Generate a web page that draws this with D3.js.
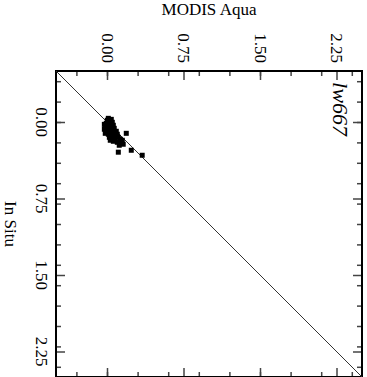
<!DOCTYPE html>
<html>
<head>
<meta charset="utf-8">
<script src="https://cdn.jsdelivr.net/npm/d3@7"></script>
<style>
  body { margin: 0; background: #fff; }
  text { font-family: "Liberation Serif", "DejaVu Serif", serif; fill: #000; }
</style>
</head>
<body>
<script>
// modis aqua vs in situ, lw667 (plot is turned 90 deg clockwise)
var modis = [0.013, 0.042, 0.023, 0.052, -0.007, 0.032, 0.062, -0.017, 0.013, 0.042,
  0.071, -0.026, 0.003, 0.032, 0.062, 0.091, -0.017, 0.013, 0.042, 0.071,
  0.101, 0.023, 0.052, 0.081, 0.111, 0.130, 0.062, 0.101, 0.140, 0.120,
  0.159, 0.189, 0.111, 0.238, 0.345, -0.026, 0.003, 0.081, 0.150, 0.032];
var inSitu = [-0.036, -0.026, -0.007, 0.003, 0.013, 0.023, 0.032, 0.042, 0.052, 0.062,
  0.062, 0.071, 0.081, 0.091, 0.091, 0.091, 0.111, 0.120, 0.120, 0.130,
  0.120, 0.150, 0.159, 0.159, 0.150, 0.169, 0.189, 0.199, 0.199, 0.228,
  0.218, 0.111, 0.296, 0.277, 0.326, 0.023, -0.017, 0.111, 0.179, 0.179];

var majorTicks = [0, 0.75, 1.5, 2.25];
var modisMinor = [-0.3, 0, 0.3, 0.6, 0.9, 1.2, 1.5, 1.8, 2.1, 2.4];
var inSituMinor = [-0.4, -0.2, 0, 0.2, 0.4, 0.6, 0.8, 1.0, 1.2, 1.4, 1.6, 1.8, 2.0, 2.2, 2.4];
var range = [-0.5, 2.5];

var w = 367;
var h = 377;
var boxL = 56, boxR = 362, boxT = 71, boxB = 377;

var svg = d3.select("body")
  .append("svg")
  .attr("width", w)
  .attr("height", h);

var x = d3.scaleLinear().domain(range).range([boxL, boxR]);
var y = d3.scaleLinear().domain(range).range([boxT, boxB]);

function tidy(g) {
  g.select(".domain").remove();
  g.selectAll("line").attr("stroke", "#444").attr("stroke-width", 1.5);
  g.selectAll("text").remove();
}

// ticks on all four sides, pointing in
svg.append("g").attr("transform", "translate(0," + boxT + ")")
  .call(d3.axisTop(x).tickValues(modisMinor).tickSize(-5)).call(tidy);
svg.append("g").attr("transform", "translate(0," + boxT + ")")
  .call(d3.axisTop(x).tickValues(majorTicks).tickSize(-9)).call(tidy);
svg.append("g").attr("transform", "translate(0," + boxB + ")")
  .call(d3.axisBottom(x).tickValues(modisMinor).tickSize(-5)).call(tidy);
svg.append("g").attr("transform", "translate(0," + boxB + ")")
  .call(d3.axisBottom(x).tickValues(majorTicks).tickSize(-9)).call(tidy);
svg.append("g").attr("transform", "translate(" + boxL + ",0)")
  .call(d3.axisLeft(y).tickValues(inSituMinor).tickSize(-5)).call(tidy);
svg.append("g").attr("transform", "translate(" + boxL + ",0)")
  .call(d3.axisLeft(y).tickValues(majorTicks).tickSize(-9)).call(tidy);
svg.append("g").attr("transform", "translate(" + boxR + ",0)")
  .call(d3.axisRight(y).tickValues(inSituMinor).tickSize(-5)).call(tidy);
svg.append("g").attr("transform", "translate(" + boxR + ",0)")
  .call(d3.axisRight(y).tickValues(majorTicks).tickSize(-9)).call(tidy);

// frame
svg.append("rect")
  .attr("x", boxL)
  .attr("y", boxT)
  .attr("width", boxR - boxL)
  .attr("height", boxB - boxT)
  .attr("fill", "none")
  .attr("stroke", "#000")
  .attr("stroke-width", 2);

// 1:1 line
svg.append("line")
  .attr("x1", x(range[0]))
  .attr("y1", y(range[0]))
  .attr("x2", x(range[1]))
  .attr("y2", y(range[1]))
  .attr("stroke", "#333")
  .attr("stroke-width", 1);

// points
var pts = modis.map(function(m, i) { return {m: m, s: inSitu[i]}; });
svg.selectAll(".pt")
  .data(pts)
  .enter()
  .append("rect")
  .attr("class", "pt")
  .attr("x", function(d) { return x(d.m) - 2.5; })
  .attr("y", function(d) { return y(d.s) - 2.5; })
  .attr("width", 5)
  .attr("height", 5)
  .attr("fill", "#000");

var fmt = d3.format(".2f");

svg.selectAll(".xlab")
  .data(majorTicks)
  .enter()
  .append("text")
  .attr("class", "xlab")
  .attr("transform", function(d) { return "translate(" + x(d) + ",48) rotate(90)"; })
  .attr("text-anchor", "middle")
  .attr("dominant-baseline", "central")
  .style("font-size", "17px")
  .text(fmt);

svg.selectAll(".ylab")
  .data(majorTicks)
  .enter()
  .append("text")
  .attr("class", "ylab")
  .attr("transform", function(d) { return "translate(41," + y(d) + ") rotate(90)"; })
  .attr("text-anchor", "middle")
  .attr("dominant-baseline", "central")
  .style("font-size", "17px")
  .text(fmt);

svg.append("text")
  .attr("x", 209)
  .attr("y", 15)
  .attr("text-anchor", "middle")
  .style("font-size", "17px")
  .text("MODIS Aqua");

svg.append("text")
  .attr("transform", "translate(10," + (boxT + boxB) / 2 + ") rotate(90)")
  .attr("text-anchor", "middle")
  .attr("dominant-baseline", "central")
  .style("font-size", "17px")
  .text("In Situ");

svg.append("text")
  .attr("transform", "translate(340,109) rotate(90)")
  .attr("text-anchor", "middle")
  .attr("dominant-baseline", "central")
  .style("font-size", "22px")
  .style("font-style", "italic")
  .text("lw667");
</script>
</body>
</html>
